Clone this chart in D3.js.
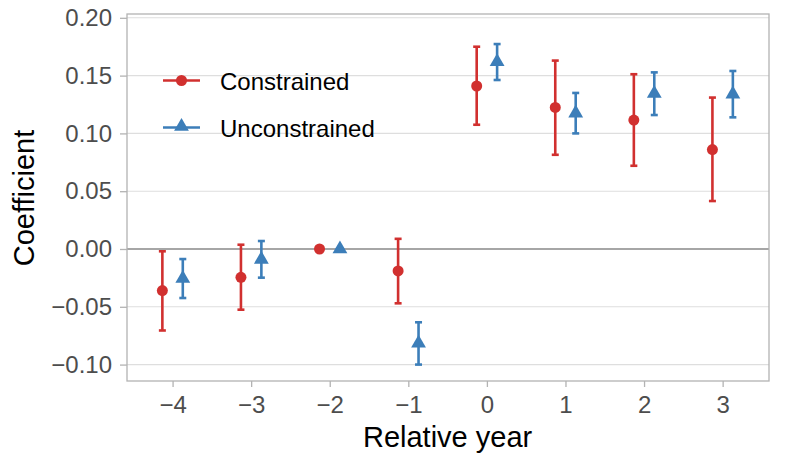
<!DOCTYPE html>
<html><head><meta charset="utf-8">
<script src="https://cdn.jsdelivr.net/npm/d3@7"></script>
<style>body{margin:0;background:#fff}svg{display:block}</style>
</head><body>
<svg id="c" width="785" height="469"></svg>
<script>
const years = [-4, -3, -2, -1, 0, 1, 2, 3];
const constrainedEst = [-0.036, -0.0245, 0, -0.019, 0.141, 0.1225, 0.1115, 0.086];
const constrainedLo  = [-0.0705, -0.0525, 0, -0.047, 0.1075, 0.0815, 0.072, 0.0415];
const constrainedHi  = [-0.002, 0.0037, 0, 0.0088, 0.175, 0.163, 0.1512, 0.131];
const unconstrainedEst = [-0.0255, -0.009, 0, -0.0815, 0.162, 0.1175, 0.1345, 0.134];
const unconstrainedLo  = [-0.0424, -0.0248, 0, -0.1, 0.1462, 0.1, 0.1159, 0.1139];
const unconstrainedHi  = [-0.0087, 0.0069, 0, -0.0634, 0.1773, 0.135, 0.1528, 0.154];
const yTicks = [-0.10, -0.05, 0.00, 0.05, 0.10, 0.15, 0.20];
const seriesNames = ["Constrained", "Unconstrained"];

const svg = d3.select("#c");
const L = 127, R = 769, T = 14, B = 381;
const x = d3.scaleLinear().domain([-4.58, 3.59]).range([L, R]);
const y = d3.scaleLinear().domain([-0.1142, 0.2033]).range([B, T]);
const red = "#d1302f", blue = "#3c7eb9";
const font = "'Liberation Sans', Arial, sans-serif";

// grid
svg.append("g").selectAll("line").data(yTicks.filter(d => d !== 0)).join("line")
  .attr("x1", L).attr("x2", R).attr("y1", d => y(d)).attr("y2", d => y(d))
  .attr("stroke", "#dedede").attr("stroke-width", 1.1);
svg.append("line").attr("x1", L).attr("x2", R).attr("y1", y(0)).attr("y2", y(0))
  .attr("stroke", "#a6a6a6").attr("stroke-width", 2.2);
svg.append("rect").attr("x", L).attr("y", T).attr("width", R - L).attr("height", B - T)
  .attr("fill", "none").attr("stroke", "#b3b3b3").attr("stroke-width", 1.3);

// axes
const fmt = d => (d < 0 ? "\u2212" : "") + Math.abs(d).toFixed(2);
const ya = svg.append("g").attr("transform", `translate(${L},0)`)
  .call(d3.axisLeft(y).tickValues(yTicks).tickFormat(fmt).tickSize(7).tickPadding(8));
const xa = svg.append("g").attr("transform", `translate(0,${B})`)
  .call(d3.axisBottom(x).tickValues(years).tickFormat(d => (d < 0 ? "\u2212" : "") + Math.abs(d)).tickSize(6).tickPadding(9));
[ya, xa].forEach(a => {
  a.select(".domain").remove();
  a.selectAll(".tick line").attr("stroke", "#b3b3b3").attr("stroke-width", 1.3);
  a.selectAll("text").attr("fill", "#4d4d4d").style("font-family", font).style("font-size", "24px");
});

svg.append("text").attr("x", x(-0.5)).attr("y", 446.5).attr("text-anchor", "middle")
  .style("font-family", font).style("font-size", "29px").attr("fill", "#000").text("Relative year");
svg.append("text").attr("transform", `translate(34,198) rotate(-90)`).attr("text-anchor", "middle")
  .style("font-family", font).style("font-size", "29px").attr("fill", "#000").text("Coefficient");

// series
const dodge = 0.13;
const series = [
  {est: constrainedEst, lo: constrainedLo, hi: constrainedHi, off: -dodge, color: red, shape: "circle"},
  {est: unconstrainedEst, lo: unconstrainedLo, hi: unconstrainedHi, off: dodge, color: blue, shape: "triangle"}
];
const tri = d3.symbol().type(d3.symbolTriangle).size(95);
const cap = 3.5;
series.forEach(s => {
  const g = svg.append("g");
  const data = years.map((yr, i) => ({x: yr + s.off, e: s.est[i], lo: s.lo[i], hi: s.hi[i]}));
  const eb = data.filter(d => d.hi !== d.lo);
  g.selectAll(".v").data(eb).join("line")
    .attr("x1", d => x(d.x)).attr("x2", d => x(d.x)).attr("y1", d => y(d.lo)).attr("y2", d => y(d.hi))
    .attr("stroke", s.color).attr("stroke-width", 2.6);
  ["lo", "hi"].forEach(k => {
    g.selectAll(".c" + k).data(eb).join("line")
      .attr("x1", d => x(d.x) - cap).attr("x2", d => x(d.x) + cap)
      .attr("y1", d => y(d[k])).attr("y2", d => y(d[k]))
      .attr("stroke", s.color).attr("stroke-width", 2.6);
  });
  if (s.shape === "circle") {
    g.selectAll("circle").data(data).join("circle")
      .attr("cx", d => x(d.x)).attr("cy", d => y(d.e)).attr("r", 5.5).attr("fill", s.color);
  } else {
    g.selectAll("path").data(data).join("path")
      .attr("d", tri).attr("transform", d => `translate(${x(d.x)},${y(d.e)})`).attr("fill", s.color);
  }
});

// legend
const lg = svg.append("g");
[0, 1].forEach(i => {
  const ly = 80.5 + i * 47;
  const c = i === 0 ? red : blue;
  lg.append("line").attr("x1", 163).attr("x2", 200).attr("y1", ly).attr("y2", ly)
    .attr("stroke", c).attr("stroke-width", 2.6);
  if (i === 0) lg.append("circle").attr("cx", 181.5).attr("cy", ly).attr("r", 5.5).attr("fill", c);
  else lg.append("path").attr("d", tri).attr("transform", `translate(181.5,${ly - 1})`).attr("fill", c);
  lg.append("text").attr("x", 220).attr("y", ly + 9.5).style("font-family", font).style("font-size", "24px")
    .attr("fill", "#000").text(seriesNames[i]);
});
</script>
</body></html>
